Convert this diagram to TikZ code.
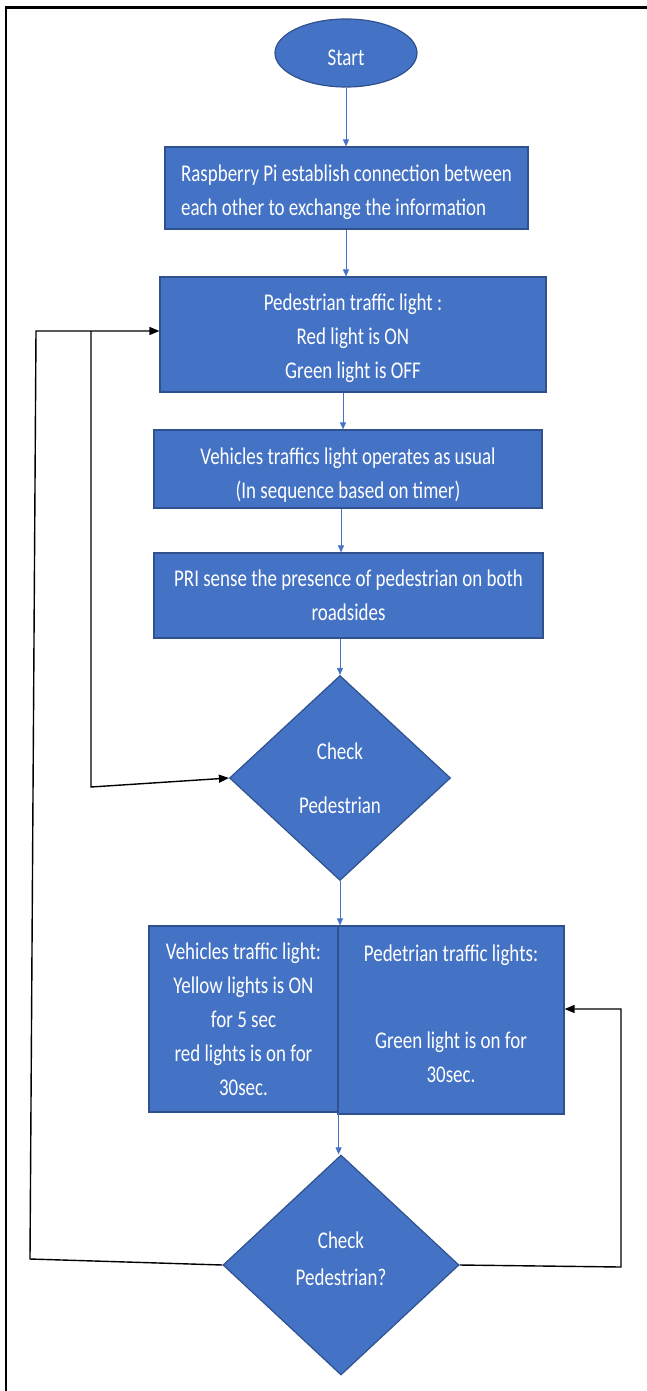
\documentclass[tikz,border=0pt]{standalone}
\usepackage{fontspec}
\setmainfont{Carlito}[FakeStretch=0.79]
\usetikzlibrary{shapes.geometric,arrows.meta}
\definecolor{boxblue}{HTML}{4472C4}
\definecolor{boxedge}{HTML}{2F528F}
\begin{document}
\begin{tikzpicture}[x=1pt,y=-1pt,
  proc/.style={draw=boxedge, line width=1.2pt, fill=boxblue, text=white, inner sep=0pt, align=center, font=\fontsize{24}{34}\selectfont},
  flow/.style={draw=boxblue, line width=0.8pt, -{Triangle[length=7pt,width=6pt]}},
  loopline/.style={draw=black, line width=1.4pt, -{Triangle[length=10pt,width=8pt]}}]
\useasboundingbox (0,0) rectangle (647,1391);
\draw[line width=2.5pt] (6,1391) -- (6,7.5) -- (647,7.5);
\node[proc, ellipse, minimum width=142pt, minimum height=68pt, text height=26pt, text depth=0pt] (start) at (346,53) {Start};
\node[proc, minimum width=363pt, minimum height=82pt, align=left, text height=54pt, text depth=0pt] (b1) at (346.5,188) {Raspberry Pi establish connection between\\each other to exchange the information};
\node[proc, minimum width=386pt, minimum height=115pt, text height=87pt, text depth=0pt] (b2) at (353,334.5) {Pedestrian traffic light :\\Red light is ON\\Green light is OFF};
\node[proc, minimum width=388pt, minimum height=78pt, text height=58pt, text depth=0pt] (b3) at (348,469) {Vehicles traffics light operates as usual\\(In sequence based on timer)};
\node[proc, minimum width=389pt, minimum height=85pt, text height=50pt, text depth=0pt] (b4) at (348.5,595.5) {PRI sense the presence of pedestrian on both\\roadsides};
\node[proc, diamond, minimum width=221pt, minimum height=205pt] (d1) at (340,778) {Check\\[20pt]Pedestrian};
\node[proc, minimum width=189pt, minimum height=186pt] (b5l) at (243.5,1019) {Vehicles traffic light:\\Yellow lights is ON\\for 5 sec\\red lights is on for\\30sec.};
\node[proc, minimum width=226pt, minimum height=188pt, text depth=12pt] (b5r) at (451,1020) {Pedetrian traffic lights:\\[53pt]Green light is on for\\30sec.};
\node[proc, diamond, minimum width=236pt, minimum height=220pt, text depth=12pt] (d2) at (341,1265) {Check\\[3pt]Pedestrian?};
\draw[flow] (start.south) -- (start.south |- b1.north);
\draw[flow] (b1.south -| 346,0) -- (b2.north -| 346,0);
\draw[flow] (b2.south -| 343,0) -- (b3.north -| 343,0);
\draw[flow] (b3.south -| 341,0) -- (b4.north -| 341,0);
\draw[flow] (d1.north |- b4.south) -- (d1.north);
\draw[flow] (d1.south) -- (d1.south |- b5l.north);
\draw[flow] (b5l.south east) -- (b5l.south east |- d2.north);
\coordinate (p1) at (91,331);
\coordinate (p2) at (91,787);
\draw[loopline] (p1) -- (p2) -- (d1.west);
\coordinate (q1) at (30,1259);
\coordinate (q2) at (36,331);
\draw[loopline] (d2.west) -- (q1) -- (q2) -- (b2.west |- q2);
\coordinate (r1) at (621,1267);
\coordinate (r2) at (621,1009);
\draw[loopline] (d2.east) -- (r1) -- (r2) -- (b5r.east |- r2);
\end{tikzpicture}
\end{document}
